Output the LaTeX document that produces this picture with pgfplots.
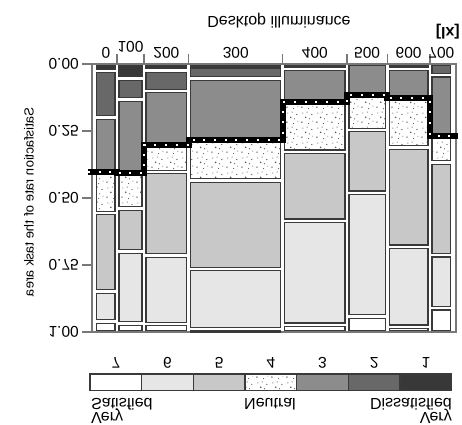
\documentclass[border=0pt]{standalone}
\usepackage{pgfplots}
\pgfplotsset{compat=1.18}
\usepackage{fontspec}
\setmainfont{Liberation Sans}
\usetikzlibrary{patterns}
\definecolor{c0}{HTML}{3A3A3A}
\definecolor{c1}{HTML}{383838}
\definecolor{c2}{HTML}{686868}
\definecolor{c3}{HTML}{8C8C8C}
\definecolor{c5}{HTML}{C8C8C8}
\definecolor{c6}{HTML}{E6E6E6}
\definecolor{axgray}{HTML}{787878}
\pgfdeclarepatternformonly{speckle}{\pgfqpoint{0pt}{0pt}}{\pgfqpoint{15pt}{15pt}}{\pgfqpoint{15pt}{15pt}}{%
\pgfpathcircle{\pgfqpoint{2pt}{3pt}}{0.8pt}%
\pgfpathcircle{\pgfqpoint{9pt}{1.5pt}}{0.6pt}%
\pgfpathcircle{\pgfqpoint{6pt}{8pt}}{0.9pt}%
\pgfpathcircle{\pgfqpoint{12.5pt}{11pt}}{0.7pt}%
\pgfpathcircle{\pgfqpoint{3pt}{12.5pt}}{0.6pt}%
\pgfpathcircle{\pgfqpoint{10pt}{6.5pt}}{0.6pt}%
\pgfpathcircle{\pgfqpoint{13.5pt}{4pt}}{0.5pt}%
\pgfpathcircle{\pgfqpoint{7.5pt}{13.5pt}}{0.6pt}%
\pgfusepath{fill}}
\tikzset{
 boxline/.style={draw=c0, line width=1.2pt},
 cat1/.style={fill=c1},
 cat2/.style={fill=c2},
 cat3/.style={fill=c3},
 cat4/.style={fill=white, postaction={pattern=speckle, pattern color=black!65}},
 cat5/.style={fill=c5},
 cat6/.style={fill=c6},
 cat7/.style={fill=white},
 flip/.style={yscale=-1, inner sep=0pt},
}
\newcommand\lblfont{\fontsize{16}{19}\selectfont}
\newcommand\tickfont{\fontsize{15.5}{18}\selectfont}
\newcommand\hx{0.0056}
\newcommand\hy{0.0068}
% one box of the mosaic: x0 x1 y0 y1 style
\newcommand\bx[5]{%
 \pgfmathparse{((#4)-(#3)>0.0005)?1:0}%
 \ifdim\pgfmathresult pt>0.5pt\relax
  \pgfmathsetmacro\xa{#1+\hx}%
  \pgfmathsetmacro\xb{#2-\hx}%
  \pgfmathsetmacro\ya{#3+\hy}%
  \pgfmathsetmacro\yb{max(#4-\hy,\ya+0.004)}%
  \edef\tmp{\noexpand\addplot[boxline,#5] coordinates {(\xa,\ya) (\xb,\ya) (\xb,\yb) (\xa,\yb)} --cycle;}%
  \tmp
 \fi}
% one column: x0 x1 and cumulative shares c1..c6
\newcommand\col[8]{%
 \bx{#1}{#2}{0}{#3}{cat1}%
 \bx{#1}{#2}{#3}{#4}{cat2}%
 \bx{#1}{#2}{#4}{#5}{cat3}%
 \bx{#1}{#2}{#5}{#6}{cat4}%
 \bx{#1}{#2}{#6}{#7}{cat5}%
 \bx{#1}{#2}{#7}{#8}{cat6}%
 \bx{#1}{#2}{#8}{1}{cat7}}
\begin{document}
\begin{tikzpicture}
\begin{axis}[
 at={(274pt,-198pt)}, anchor=center,
 scale only axis, width=364pt, height=268pt,
 xmin=-0.0075, xmax=1.0092, ymin=0, ymax=1,
 y dir=reverse, clip=false,
 axis line style={draw=axgray, line width=1.5pt},
 tick style={draw=axgray, line width=1.3pt},
 tick align=outside, major tick length=10pt,
 xtick pos=right, xticklabel pos=right,
 ytick pos=left,
 xtick={0.0623,0.1377,0.2626,0.5254,0.7048,0.8170,0.9366},
 xticklabels={},
 extra x ticks={0.0312,0.1,0.2002,0.394,0.6151,0.7609,0.8768,0.9683},
 extra x tick labels={0,{\raisebox{-6pt}[\height][0pt]{100}},200,300,400,500,600,700},
 extra x tick style={major tick length=0pt},
 ytick={0,0.25,0.5,0.75,1},
 yticklabels={0.00,0.25,0.50,0.75,1.00},
 tick label style={font=\tickfont, yscale=-1, inner sep=0pt},
 xticklabel style={anchor=north},
 yticklabel style={anchor=east},
 xticklabel shift=5pt, yticklabel shift=3pt,
]
\col{0}{0.0623}{0.026}{0.200}{0.402}{0.556}{0.848}{0.960}
\col{0.0623}{0.1377}{0.054}{0.132}{0.407}{0.539}{0.699}{0.969}
\col{0.1377}{0.2626}{0.024}{0.101}{0.301}{0.403}{0.715}{0.970}
\col{0.2626}{0.5254}{0.011}{0.054}{0.284}{0.434}{0.765}{0.989}
\col{0.5254}{0.7048}{0.016}{0.016}{0.143}{0.328}{0.585}{0.973}
\col{0.7048}{0.8170}{0}{0}{0.114}{0.246}{0.481}{0.942}
\col{0.8170}{0.9366}{0.016}{0.016}{0.127}{0.312}{0.682}{0.981}
\col{0.9366}{1}{0}{0.042}{0.268}{0.367}{0.713}{0.911}
\addplot[black, line width=6pt, line join=miter] coordinates {
 (-0.019,0.402) (0.0623,0.402) (0.0623,0.407) (0.1377,0.407) (0.1377,0.301)
 (0.2626,0.301) (0.2626,0.284) (0.5254,0.284) (0.5254,0.143) (0.7048,0.143)
 (0.7048,0.114) (0.8170,0.114) (0.8170,0.127) (0.9366,0.127) (0.9366,0.268)
 (1.015,0.268)};
\addplot[white, line width=2pt, dash pattern=on 2pt off 8.7pt] coordinates {
 (-0.019,0.402) (0.0623,0.402) (0.0623,0.407) (0.1377,0.407) (0.1377,0.301)
 (0.2626,0.301) (0.2626,0.284) (0.5254,0.284) (0.5254,0.143) (0.7048,0.143)
 (0.7048,0.114) (0.8170,0.114) (0.8170,0.127) (0.9366,0.127) (0.9366,0.268)
 (1.015,0.268)};
\end{axis}
\begin{axis}[
 at={(270.85pt,-382.35pt)}, anchor=center,
 scale only axis, width=361.7pt, height=16.7pt,
 xmin=0, xmax=7, ymin=0, ymax=1, clip=false,
 axis line style={draw=none},
 ytick=\empty,
 xtick={0.5,1.5,2.5,3.5,4.5,5.5,6.5},
 xticklabels={7,6,5,4,3,2,1},
 major tick length=0pt,
 xtick pos=right, xticklabel pos=right,
 tick label style={font=\tickfont, yscale=-1, inner sep=0pt},
 xticklabel style={anchor=north},
 xticklabel shift=5.5pt,
]
\addplot[boxline,cat7] coordinates {(0,0) (1,0) (1,1) (0,1)} --cycle;
\addplot[boxline,cat6] coordinates {(1,0) (2,0) (2,1) (1,1)} --cycle;
\addplot[boxline,cat5] coordinates {(2,0) (3,0) (3,1) (2,1)} --cycle;
\addplot[boxline,cat4] coordinates {(3,0) (4,0) (4,1) (3,1)} --cycle;
\addplot[boxline,cat3] coordinates {(4,0) (5,0) (5,1) (4,1)} --cycle;
\addplot[boxline,cat2] coordinates {(5,0) (6,0) (6,1) (5,1)} --cycle;
\addplot[boxline,cat1] coordinates {(6,0) (7,0) (7,1) (6,1)} --cycle;
\end{axis}
\node[flip, anchor=base, font=\lblfont] at (279pt,-16pt) {Desktop illuminance};
\node[flip, anchor=base east, font=\lblfont\bfseries] at (460pt,-27pt) {[lx]};
\node[rotate=-90, yscale=-1, inner sep=0pt, font=\fontsize{13.2}{16}\selectfont] at (29pt,-202pt) {Satisfaction rate of the task area};
\node[flip, anchor=base west, font=\lblfont] at (91pt,-398pt) {Satisfied};
\node[flip, anchor=base west, font=\lblfont] at (91pt,-412.5pt) {Very};
\node[flip, anchor=base, font=\lblfont] at (270pt,-398pt) {Neutral};
\node[flip, anchor=base east, font=\lblfont] at (452pt,-398pt) {Dissatisfied};
\node[flip, anchor=base east, font=\lblfont] at (452pt,-412.5pt) {Very};
\pgfresetboundingbox
\path[use as bounding box] (0pt,0pt) rectangle (462pt,-424pt);
\end{tikzpicture}
\end{document}
